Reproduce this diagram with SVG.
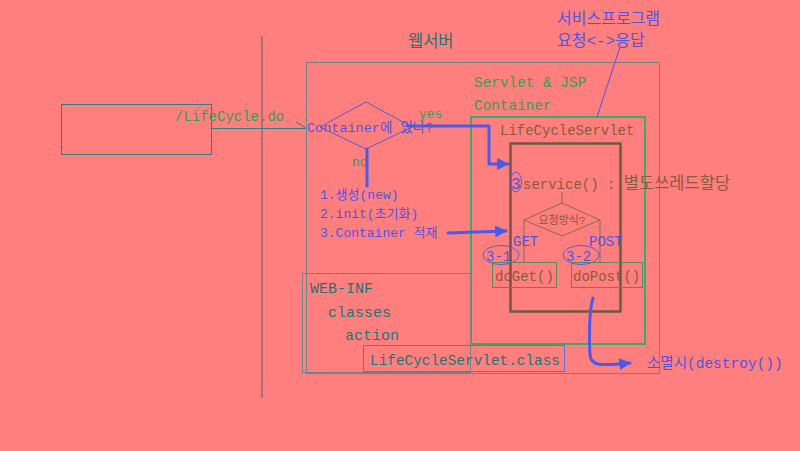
<svg xmlns="http://www.w3.org/2000/svg" width="800" height="451" viewBox="0 0 800 451">
<style>
text{font-family:"Liberation Mono","Noto Sans CJK KR",monospace;}
.teal{fill:#1f7373;}
.blue{fill:#5252e0;}
.green{fill:#3a9a55;}
.brown{fill:#8a5a3c;}
.thin{fill:none;stroke-width:1;}
.thick{fill:none;stroke:#4b5ae8;stroke-width:3;stroke-linecap:round;stroke-linejoin:round;}
</style>
<defs>
<marker id="ah" viewBox="0 0 10 10" refX="9" refY="5" markerWidth="4" markerHeight="4" orient="auto">
<path d="M0,0 L10,5 L0,10 z" fill="#4b5ae8"/>
</marker>
</defs>
<rect x="0" y="0" width="800" height="451" fill="#ff7f7f"/>
<line x1="262" y1="36" x2="262" y2="398" stroke="#3f6f6f" stroke-width="1"/>

<g id="client">
<rect x="61.5" y="104.5" width="150" height="50" class="thin" stroke="#2f7f80"/>
<text x="175" y="121" class="green" font-size="14">/LifeCycle.do</text>
</g>

<g id="webserver">
<rect x="306.5" y="62.5" width="353" height="311" class="thin" stroke="#6f8585"/>
<text x="408" y="47" class="teal" font-size="16.5">웹서버</text>
</g>

<g id="container-check">
<polygon points="366,102 412,127 366,149 320,127" class="thin" stroke="#5a5ad0"/>
<text x="307" y="132" class="blue" font-size="13.5">Container에 있나?</text>
</g>

<g id="steps">
<text x="320" y="199" class="blue" font-size="13">1.생성(new)</text>
<text x="320" y="218" class="blue" font-size="13">2.init(초기화)</text>
<text x="320" y="237" class="blue" font-size="13">3.Container 적재</text>
</g>

<g id="servlet-container">
<rect x="471" y="117" width="174" height="227" fill="none" stroke="#3aaa6a" stroke-width="2"/>
<text x="474" y="87" class="green" font-size="14.4">Servlet &amp; JSP</text>
<text x="474" y="110" class="green" font-size="14.4">Container</text>
<text x="500" y="135" class="brown" font-size="14">LifeCycleServlet</text>
</g>

<g id="service-program">
<text x="557" y="24" class="blue" font-size="16">서비스프로그램</text>
<text x="557" y="46" class="blue" font-size="16">요청&lt;-&gt;응답</text>
</g>

<g id="servlet">
<rect x="510.5" y="143.5" width="110" height="168" fill="none" stroke="#6e5a42" stroke-width="2.5"/>
<ellipse cx="516" cy="182" rx="5.5" ry="10" class="thin" stroke="#5a5ad0"/>
<text x="511" y="189" class="blue" font-size="16">3</text>
<text x="523" y="189" class="brown" font-size="14">service() : <tspan font-size="16.5">별도쓰레드할당</tspan></text>
</g>

<g id="method-check">
<line x1="562" y1="192" x2="562" y2="203" class="thin" stroke="#8a6a4a"/>
<polygon points="562,203 600,220 562,236 524,220" class="thin" stroke="#8a6a4a"/>
<text x="562" y="224" class="brown" font-size="11" text-anchor="middle">요청방식?</text>
<line x1="524" y1="220" x2="524" y2="262" class="thin" stroke="#8a6a4a"/>
<line x1="600" y1="220" x2="600" y2="262" class="thin" stroke="#8a6a4a"/>
<text x="513" y="246" class="blue" font-size="14">GET</text>
<text x="589" y="246" class="blue" font-size="14">POST</text>
</g>

<g id="doget">
<ellipse cx="501" cy="255" rx="18" ry="9.5" class="thin" stroke="#5a5ad0"/>
<text x="486" y="261" class="blue" font-size="14">3-1</text>
<rect x="492.5" y="262.5" width="64" height="25" class="thin" stroke="#5a8a5a"/>
<text x="495" y="281" class="brown" font-size="14">doGet()</text>
</g>

<g id="dopost">
<ellipse cx="581" cy="255" rx="18" ry="9.5" class="thin" stroke="#5a5ad0"/>
<text x="566" y="261" class="blue" font-size="14">3-2</text>
<rect x="571.5" y="262.5" width="71" height="25" class="thin" stroke="#5a8a5a"/>
<text x="573" y="281" class="brown" font-size="14">doPost()</text>
</g>

<g id="webinf">
<rect x="302.5" y="273.5" width="168" height="99" class="thin" stroke="#6f8585"/>
<text x="310" y="293" class="teal" font-size="15">WEB-INF</text>
<text x="328" y="317" class="teal" font-size="15">classes</text>
<text x="345" y="340" class="teal" font-size="15">action</text>
</g>

<g id="class-file">
<rect x="363.5" y="345.5" width="201" height="26" class="thin" stroke="#6a6acf"/>
<text x="370" y="365" class="teal" font-size="14.4">LifeCycleServlet.class</text>
</g>

<g id="destroy">
<text x="647" y="368" class="blue" font-size="14.5">소멸시(destroy())</text>
</g>

<g id="connectors">
<line x1="211" y1="128.5" x2="306" y2="128.5" stroke="#2f7f80" stroke-width="1"/>
<line x1="296" y1="122" x2="306" y2="128" stroke="#2f7f80" stroke-width="1"/>
<text x="419" y="118" class="green" font-size="13">yes</text>
<text x="352" y="166" class="green" font-size="13">no</text>
<polyline points="408,126 489,126 489,164 508,164" class="thick" stroke-width="2.5" marker-end="url(#ah)"/>
<line x1="367" y1="149" x2="367" y2="186" class="thick" stroke-width="2"/>
<line x1="448" y1="233" x2="506" y2="231" class="thick" stroke-width="3.5" marker-end="url(#ah)"/>
<path d="M593,298 C589,310 589,340 590,355 C591,366 600,366 630,363" class="thick" stroke-width="3.5" marker-end="url(#ah)"/>
<line x1="620" y1="47" x2="597" y2="117" stroke="#5252e0" stroke-width="1"/>
</g>
</svg>
